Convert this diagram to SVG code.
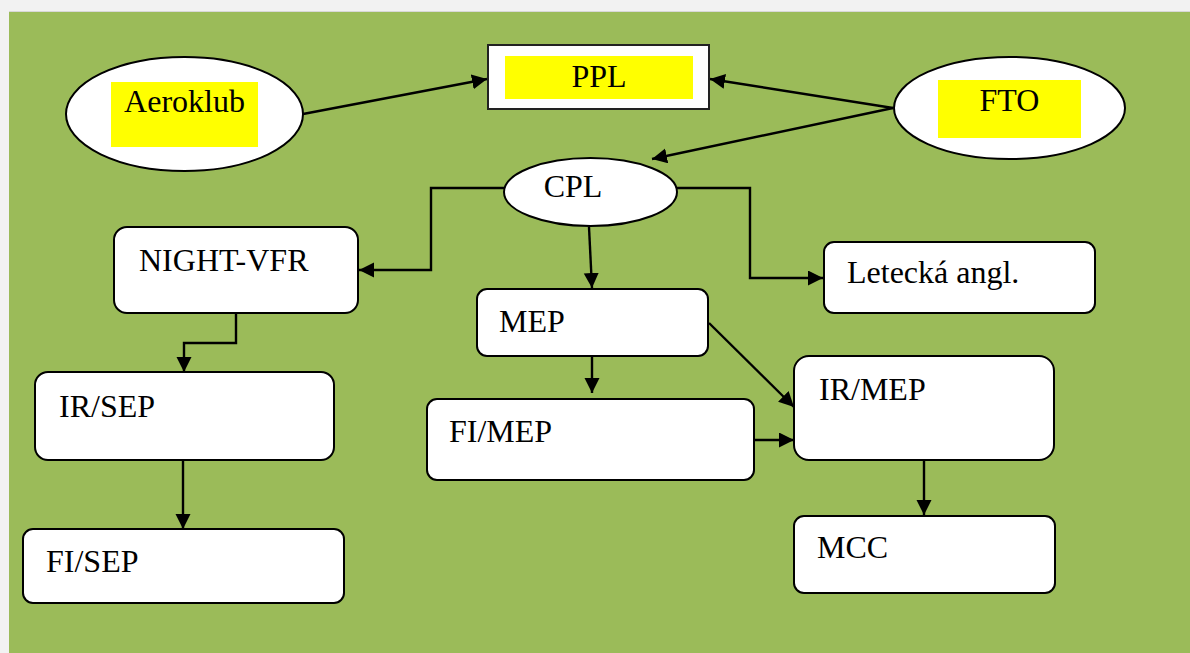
<svg xmlns="http://www.w3.org/2000/svg" width="1190" height="653" viewBox="0 0 1190 653">
<style>
.t{font-family:"Liberation Serif","Times New Roman",serif;font-size:32px;fill:#000}
.box{fill:#fff;stroke:#000;stroke-width:2}
.el{fill:#fff;stroke:#000;stroke-width:2}
.hl{fill:#ffff00}
.c{fill:none;stroke:#000;stroke-width:2.4}
</style>
<defs>
<marker id="ah" markerUnits="userSpaceOnUse" markerWidth="16" markerHeight="16" refX="15" refY="7.5" orient="auto">
<path d="M0,0 L15,7.5 L0,15 z" fill="#000"/>
</marker>
</defs>
<rect x="0" y="0" width="1190" height="653" fill="#f2f2f2"/>
<rect x="9" y="11" width="1181" height="642" fill="#d8d8d8"/>
<rect x="9" y="12" width="1181" height="641" fill="#9bbb59"/>

<g id="connectors">
<line class="c" x1="303" y1="114" x2="487" y2="79" marker-end="url(#ah)"/>
<line class="c" x1="893" y1="108" x2="710" y2="79" marker-end="url(#ah)"/>
<line class="c" x1="893" y1="108" x2="652" y2="159" marker-end="url(#ah)"/>
<polyline class="c" points="504,188 431,188 431,270 359,270" marker-end="url(#ah)"/>
<line class="c" x1="589" y1="227" x2="592" y2="288" marker-end="url(#ah)"/>
<polyline class="c" points="677,188 750,188 750,278 823,278" marker-end="url(#ah)"/>
<polyline class="c" points="236,313 236,343 184,343 184,372" marker-end="url(#ah)"/>
<line class="c" x1="183" y1="460" x2="183" y2="529" marker-end="url(#ah)"/>
<line class="c" x1="592" y1="356" x2="592" y2="393" marker-end="url(#ah)"/>
<line class="c" x1="709" y1="323" x2="794" y2="407" marker-end="url(#ah)"/>
<line class="c" x1="754" y1="440" x2="794" y2="440" marker-end="url(#ah)"/>
<line class="c" x1="924" y1="460" x2="924" y2="515" marker-end="url(#ah)"/>
</g>

<g id="aeroklub">
<ellipse class="el" cx="184.5" cy="114" rx="118.5" ry="57"/>
<rect class="hl" x="111" y="82" width="147" height="65"/>
<text class="t" x="184.5" y="112" text-anchor="middle">Aeroklub</text>
</g>

<g id="ppl">
<rect x="488" y="45" width="221" height="64" fill="#fff" stroke="#222" stroke-width="2"/>
<rect class="hl" x="505" y="56" width="188" height="43"/>
<text class="t" x="599" y="87" text-anchor="middle">PPL</text>
</g>

<g id="fto">
<ellipse class="el" cx="1009.5" cy="108" rx="115.5" ry="51"/>
<rect class="hl" x="938" y="80" width="143" height="58"/>
<text class="t" x="1009.5" y="111" text-anchor="middle">FTO</text>
</g>

<g id="cpl">
<ellipse class="el" cx="590.5" cy="192" rx="86.5" ry="34"/>
<text class="t" x="573" y="197" text-anchor="middle">CPL</text>
</g>

<g id="night-vfr">
<rect class="box" x="114" y="227" width="244" height="86" rx="13"/>
<text class="t" x="139" y="271">NIGHT-VFR</text>
</g>

<g id="letecka">
<rect class="box" x="824" y="242" width="271" height="71" rx="10"/>
<text class="t" x="847" y="283">Letecká angl.</text>
</g>

<g id="mep">
<rect class="box" x="477" y="289" width="231" height="67" rx="10"/>
<text class="t" x="499" y="332">MEP</text>
</g>

<g id="ir-sep">
<rect class="box" x="35" y="372" width="299" height="88" rx="13"/>
<text class="t" x="59" y="417">IR/SEP</text>
</g>

<g id="fi-mep">
<rect class="box" x="427" y="399" width="327" height="81" rx="10"/>
<text class="t" x="449" y="442">FI/MEP</text>
</g>

<g id="ir-mep">
<rect class="box" x="794" y="356" width="260" height="104" rx="15"/>
<text class="t" x="819" y="400">IR/MEP</text>
</g>

<g id="fi-sep">
<rect class="box" x="23" y="529" width="321" height="74" rx="10"/>
<text class="t" x="46" y="572">FI/SEP</text>
</g>

<g id="mcc">
<rect class="box" x="794" y="516" width="261" height="77" rx="10"/>
<text class="t" x="817" y="558">MCC</text>
</g>
</svg>
